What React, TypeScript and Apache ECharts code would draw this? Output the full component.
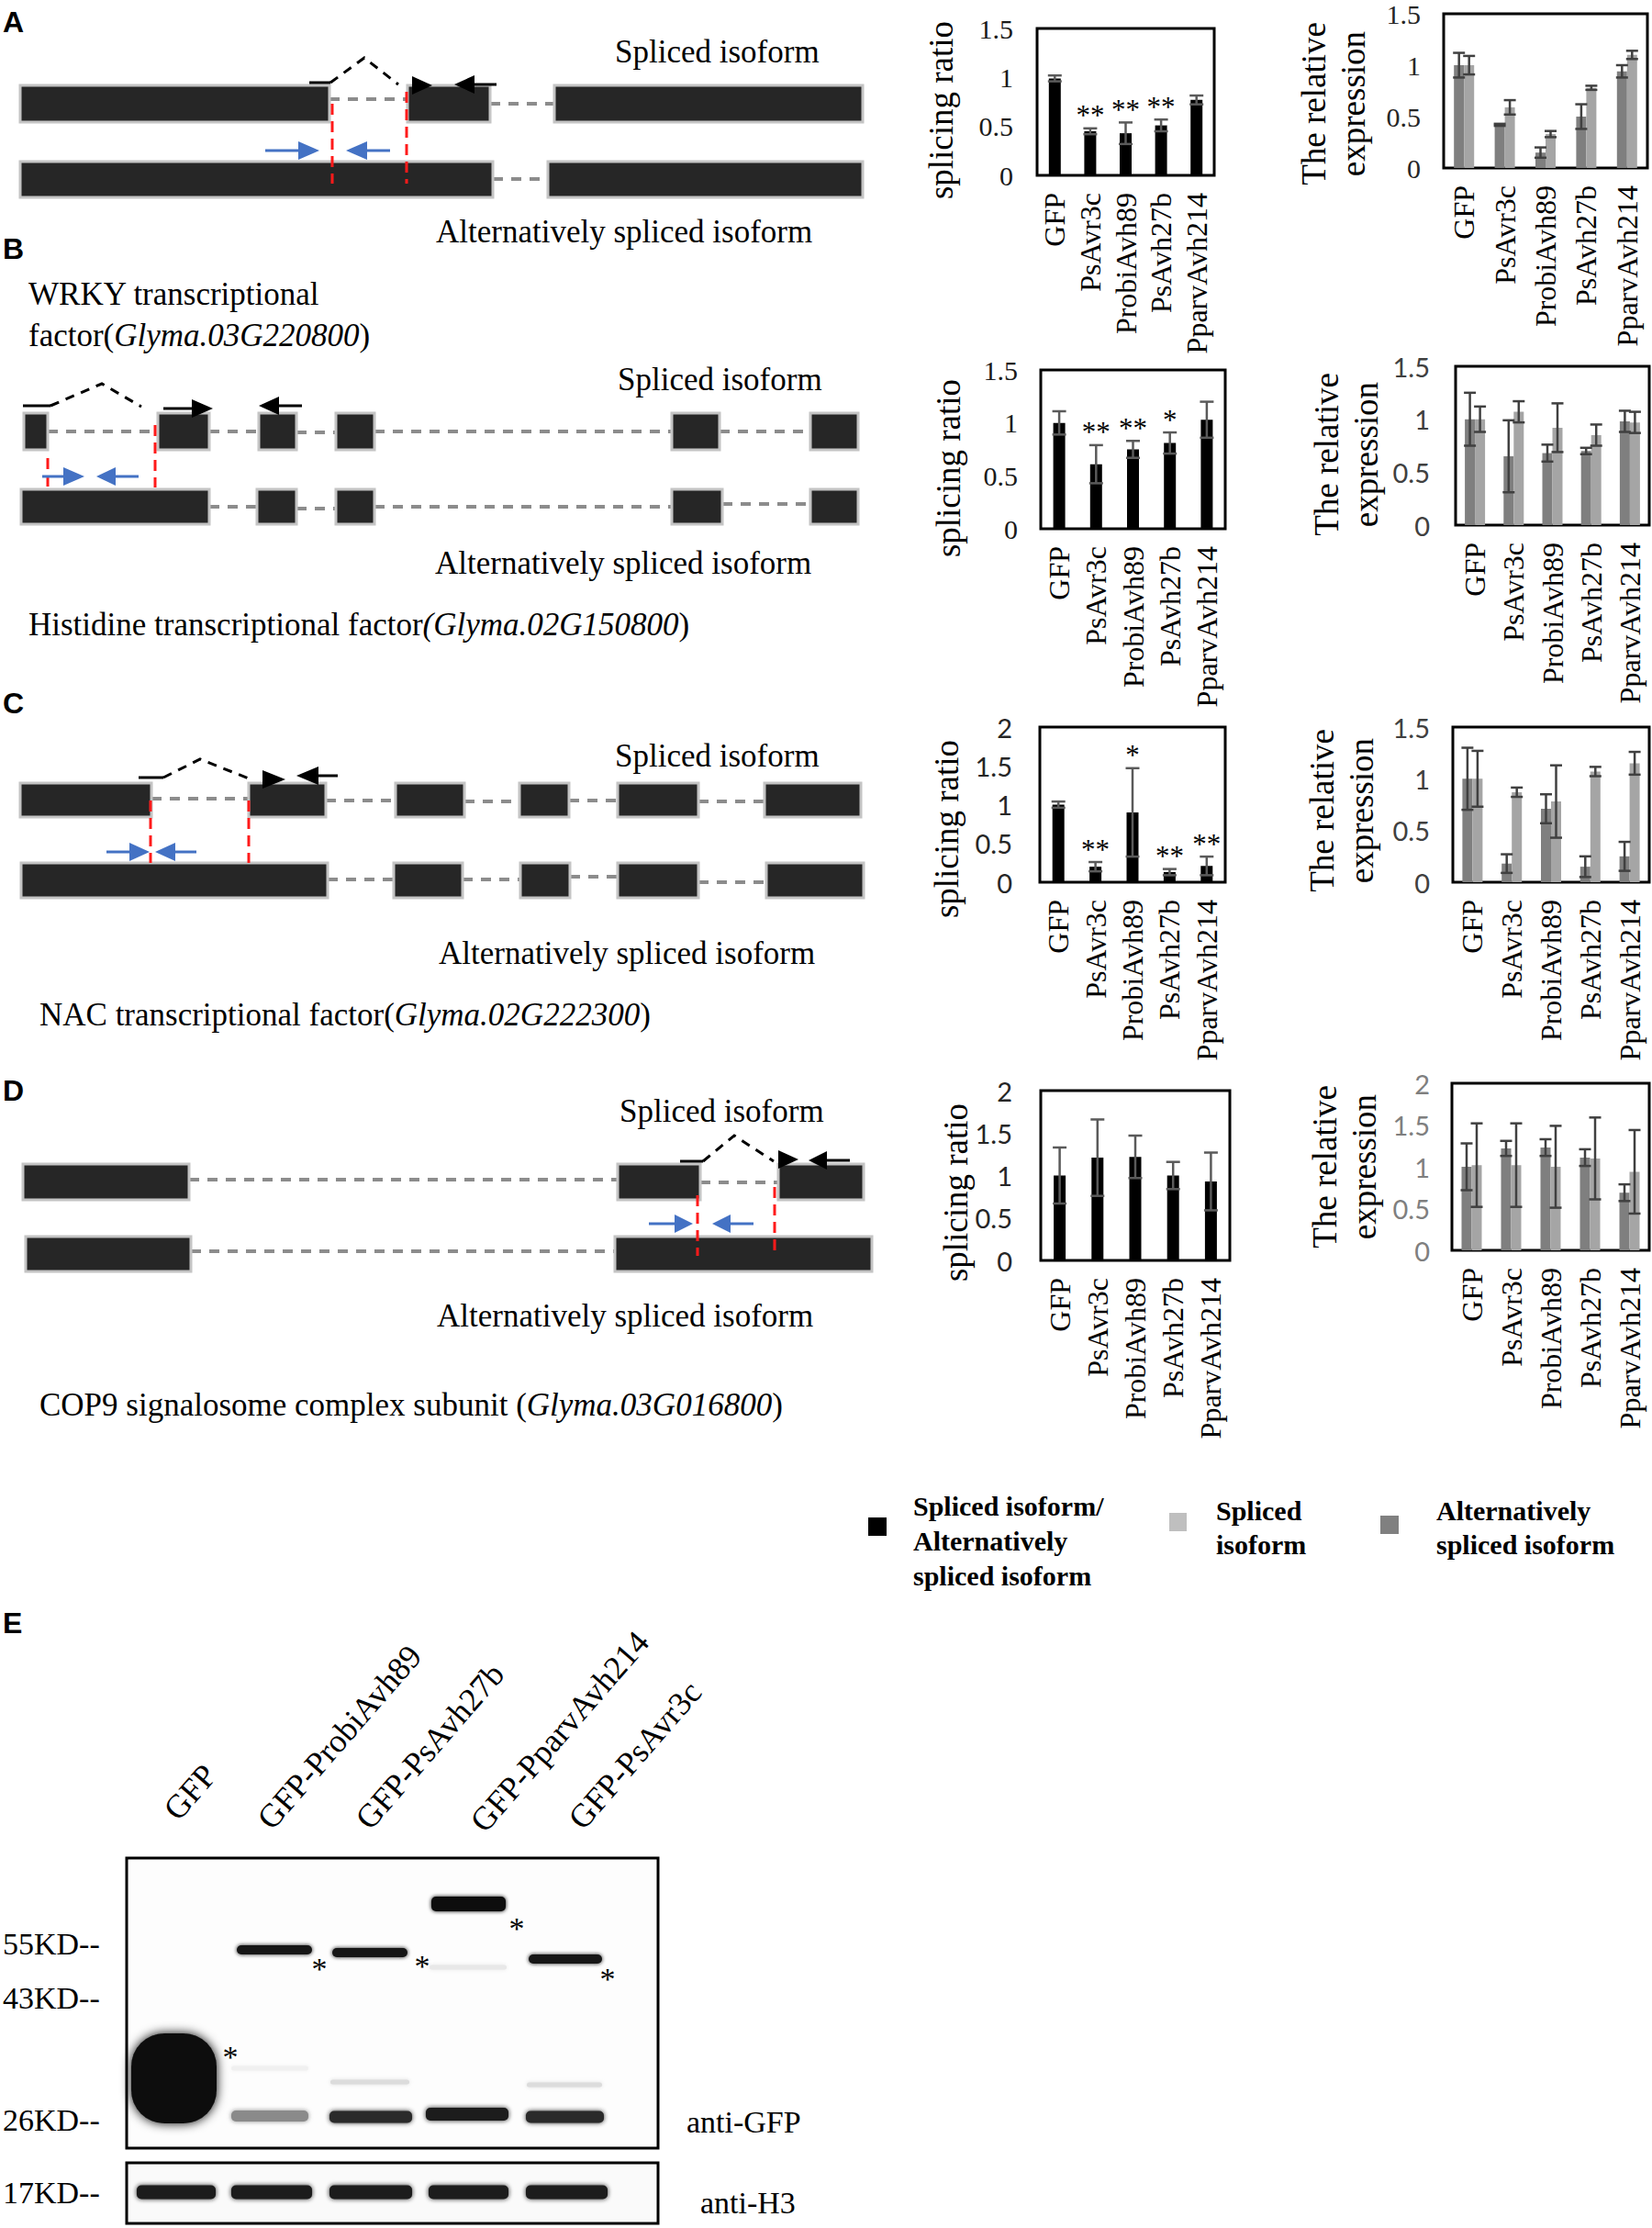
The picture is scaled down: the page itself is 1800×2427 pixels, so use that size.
import React, { useEffect, useRef } from 'react';
import * as echarts from 'echarts';

// ---------------- DATA ----------------
const categories = ['GFP', 'PsAvr3c', 'ProbiAvh89', 'PsAvh27b', 'PparvAvh214'];

// Panel A (WRKY)
const ratioA = [0.99, 0.45, 0.43, 0.51, 0.77];
const ratioErrA = [0.03, 0.03, 0.11, 0.06, 0.045];
const starsA = ['', '**', '**', '**', ''];
const altA = [1.0, 0.42, 0.15, 0.5, 0.94];
const altErrA = [0.12, 0.01, 0.05, 0.12, 0.06];
const splA = [1.0, 0.59, 0.33, 0.78, 1.1];
const splErrA = [0.09, 0.07, 0.03, 0.02, 0.04];

// Panel B (Histidine)
const ratioB = [1.0, 0.61, 0.75, 0.81, 1.03];
const ratioErrB = [0.11, 0.18, 0.08, 0.1, 0.17];
const starsB = ['', '**', '**', '*', ''];
const altB = [1.0, 0.65, 0.68, 0.7, 0.98];
const altErrB = [0.25, 0.34, 0.08, 0.03, 0.1];
const splB = [1.0, 1.07, 0.92, 0.85, 0.97];
const splErrB = [0.12, 0.1, 0.23, 0.1, 0.1];

// Panel C (NAC)
const ratioC = [1.0, 0.2, 0.9, 0.13, 0.21];
const ratioErrC = [0.04, 0.06, 0.57, 0.04, 0.12];
const starsC = ['', '**', '*', '**', '**'];
const altC = [1.0, 0.18, 0.71, 0.15, 0.25];
const altErrC = [0.3, 0.09, 0.14, 0.1, 0.14];
const splC = [1.0, 0.87, 0.78, 1.07, 1.15];
const splErrC = [0.27, 0.045, 0.35, 0.045, 0.11];

// Panel D (COP9)
const ratioD = [1.0, 1.21, 1.22, 1.0, 0.93];
const ratioErrD = [0.33, 0.45, 0.25, 0.16, 0.34];
const starsD = ['', '', '', '', ''];
const altD = [1.0, 1.22, 1.23, 1.11, 0.69];
const altErrD = [0.28, 0.09, 0.1, 0.1, 0.1];
const splD = [1.02, 1.02, 1.0, 1.1, 0.94];
const splErrD = [0.5, 0.5, 0.49, 0.49, 0.5];

// Western blot
const laneLabels = ['GFP', 'GFP-ProbiAvh89', 'GFP-PsAvh27b', 'GFP-PparvAvh214', 'GFP-PsAvr3c'];
const markerLabels = ['55KD--', '43KD--', '26KD--', '17KD--'];

// ---------------- STYLE / LAYOUT ----------------
const SERIF = '"Liberation Serif","Times New Roman",serif';
const SANS = 'Lato,"Liberation Sans",sans-serif';
const BAR_BLACK = '#000000';
const ALT_GRAY = '#7f7f7f';
const SPL_GRAY = '#a5a5a5';

type ChartCfg = {
  kind: 'ratio' | 'expr';
  grid: { left: number; top: number; width: number; height: number };
  max: number;
  font: string;
  fs: number;
  color: string;
  margin: number;
  title: { x: number; y: number };
};

const CHARTS: ChartCfg[] = [
  { kind: 'ratio', grid: { left: 1130, top: 31, width: 193, height: 160 }, max: 1.5, font: SERIF, fs: 30, color: '#1a1a1a', margin: 26, title: { x: 1025, y: 120 } },
  { kind: 'expr', grid: { left: 1573, top: 13, width: 222, height: 170 }, max: 1.5, font: SERIF, fs: 30, color: '#262626', margin: 25, title: { x: 1453, y: 113 } },
  { kind: 'ratio', grid: { left: 1134, top: 403, width: 201, height: 173 }, max: 1.5, font: SERIF, fs: 30, color: '#1a1a1a', margin: 25, title: { x: 1033, y: 510 } },
  { kind: 'expr', grid: { left: 1586, top: 399, width: 211, height: 173 }, max: 1.5, font: SANS, fs: 29, color: '#404040', margin: 28, title: { x: 1467, y: 495 } },
  { kind: 'ratio', grid: { left: 1133, top: 792, width: 202, height: 169 }, max: 2, font: SANS, fs: 29, color: '#262626', margin: 30, title: { x: 1031, y: 903 } },
  { kind: 'expr', grid: { left: 1583, top: 792, width: 214, height: 169 }, max: 1.5, font: SANS, fs: 29, color: '#404040', margin: 25, title: { x: 1462, y: 883 } },
  { kind: 'ratio', grid: { left: 1134, top: 1188, width: 206, height: 185 }, max: 2, font: SANS, fs: 29, color: '#262626', margin: 31, title: { x: 1041, y: 1299 } },
  { kind: 'expr', grid: { left: 1582, top: 1180, width: 215, height: 182 }, max: 2, font: SANS, fs: 29, color: '#7f7f7f', margin: 24, title: { x: 1465, y: 1271 } },
];

const RATIO_SETS = [
  { v: ratioA, e: ratioErrA, s: starsA },
  { v: ratioB, e: ratioErrB, s: starsB },
  { v: ratioC, e: ratioErrC, s: starsC },
  { v: ratioD, e: ratioErrD, s: starsD },
];
const EXPR_SETS = [
  { alt: altA, altE: altErrA, spl: splA, splE: splErrA },
  { alt: altB, altE: altErrB, spl: splB, splE: splErrB },
  { alt: altC, altE: altErrC, spl: splC, splE: splErrC },
  { alt: altD, altE: altErrD, spl: splD, splE: splErrD },
];

function errorSeries(idx: number, means: number[], errs: number[], offset: number, cap: number, color: string, stars?: string[]) {
  return {
    type: 'custom',
    xAxisIndex: idx,
    yAxisIndex: idx,
    z: 5,
    silent: true,
    data: means.map((m, i) => [i, m - errs[i], m + errs[i]]),
    encode: { x: 0, y: [1, 2] },
    renderItem: (params: any, api: any) => {
      const i = api.value(0);
      const p0 = api.coord([i, api.value(1)]);
      const p1 = api.coord([i, api.value(2)]);
      const x = p0[0] + offset;
      const st = { stroke: color, lineWidth: 2.5 };
      const children: any[] = [
        { type: 'line', shape: { x1: x, y1: p0[1], x2: x, y2: p1[1] }, style: st },
        { type: 'line', shape: { x1: x - cap / 2, y1: p0[1], x2: x + cap / 2, y2: p0[1] }, style: st },
        { type: 'line', shape: { x1: x - cap / 2, y1: p1[1], x2: x + cap / 2, y2: p1[1] }, style: st },
      ];
      const s = stars ? stars[params.dataIndex] : '';
      if (s) {
        children.push({
          type: 'text',
          x: x,
          y: p1[1] - 14,
          style: { text: s, fontSize: 31, fontFamily: SERIF, fill: '#000', align: 'center', verticalAlign: 'middle' },
        });
      }
      return { type: 'group', children };
    },
  };
}

// ---------- graphic helpers ----------
const exon = (x1: number, x2: number, y1: number, y2: number) => ({
  type: 'rect', z: 2, shape: { x: x1, y: y1, width: x2 - x1, height: y2 - y1 },
  style: { fill: '#262626', stroke: '#c4c4c4', lineWidth: 3 },
});
const gdash = (x1: number, x2: number, y: number) => ({
  type: 'line', z: 1, shape: { x1, y1: y, x2, y2: y },
  style: { stroke: '#8c8c8c', lineWidth: 4, lineDash: [11, 9] },
});
const rdash = (x: number, y1: number, y2: number) => ({
  type: 'line', z: 4, shape: { x1: x, y1, x2: x, y2 },
  style: { stroke: '#ff1a1a', lineWidth: 3, lineDash: [12, 7] },
});
const splice = (xs: number, xa: number, y0: number, xp: number, yp: number, xe: number, ye: number) => [
  { type: 'line', z: 3, shape: { x1: xs, y1: y0, x2: xa, y2: y0 }, style: { stroke: '#000', lineWidth: 3 } },
  { type: 'polyline', z: 3, shape: { points: [[xa, y0], [xp, yp], [xe, ye]] }, style: { stroke: '#000', lineWidth: 3, lineDash: [10, 8], fill: null } },
];
const arrowRight = (xl: number, xb: number, xt: number, y: number, color: string, hh: number) => {
  const out: any[] = [];
  if (xl < xb) out.push({ type: 'line', z: 5, shape: { x1: xl, y1: y, x2: xb, y2: y }, style: { stroke: color, lineWidth: 3 } });
  out.push({ type: 'polygon', z: 5, shape: { points: [[xb, y - hh], [xt, y], [xb, y + hh]] }, style: { fill: color } });
  return out;
};
const arrowLeft = (xt: number, xb: number, xr: number, y: number, color: string, hh: number) => {
  const out: any[] = [];
  if (xr > xb) out.push({ type: 'line', z: 5, shape: { x1: xb, y1: y, x2: xr, y2: y }, style: { stroke: color, lineWidth: 3 } });
  out.push({ type: 'polygon', z: 5, shape: { points: [[xb, y - hh], [xt, y], [xb, y + hh]] }, style: { fill: color } });
  return out;
};
const text = (x: number, y: number, t: string, extra: any = {}) => ({
  type: 'text', z: 10, x, y,
  style: { text: t, fill: '#000', fontSize: 35, fontFamily: SERIF, align: 'left', verticalAlign: 'middle', ...extra },
});
const richText = (x: number, y: number, t: string) => text(x, y, t, {
  rich: { i: { fontStyle: 'italic', fontSize: 35, fontFamily: SERIF, fill: '#000' } },
});
const letter = (y: number, t: string) => ({
  type: 'text', z: 10, x: 3, y,
  style: { text: t, fill: '#000', fontSize: 32, fontWeight: 'bold', fontFamily: '"Liberation Sans Narrow","Liberation Sans",Arial,sans-serif', align: 'left', verticalAlign: 'top' },
});
const BLUE = '#4472c4';

function diagrams(): any[] {
  const el: any[] = [];
  // ---- Panel A ----
  el.push(letter(8, 'A'));
  el.push(text(670, 56, 'Spliced isoform'));
  el.push(text(475, 252, 'Alternatively spliced isoform'));
  [[22, 359], [444, 534], [604, 940]].forEach(([a, b]) => el.push(exon(a, b, 93, 133)));
  [[22, 537], [597, 940]].forEach(([a, b]) => el.push(exon(a, b, 176, 215)));
  el.push(gdash(359, 444, 108), gdash(534, 604, 113), gdash(537, 597, 195));
  el.push(...splice(337, 360, 90, 397, 63, 434, 92));
  el.push(...arrowRight(449, 449, 471, 93, '#000', 10));
  el.push(...arrowLeft(495, 517, 541, 92, '#000', 10));
  el.push(rdash(362, 113, 200), rdash(443, 100, 200));
  el.push(...arrowRight(289, 325, 348, 164, BLUE, 10));
  el.push(...arrowLeft(377, 400, 425, 164, BLUE, 10));

  // ---- Panel B ----
  el.push(letter(255, 'B'));
  el.push(text(31, 320, 'WRKY transcriptional'));
  el.push(richText(31, 365, 'factor({i|Glyma.03G220800})'));
  el.push(text(673, 413, 'Spliced isoform'));
  el.push(text(474, 613, 'Alternatively spliced isoform'));
  el.push(richText(31, 680, 'Histidine transcriptional factor{i|(Glyma.02G150800})'));
  [[26, 52], [172, 228], [282, 323], [366, 408], [732, 784], [883, 935]].forEach(([a, b]) => el.push(exon(a, b, 450, 490)));
  [[23, 228], [280, 323], [366, 408], [732, 787], [883, 935]].forEach(([a, b]) => el.push(exon(a, b, 533, 571)));
  el.push(gdash(52, 172, 470), gdash(228, 282, 470), gdash(323, 366, 471), gdash(408, 732, 470), gdash(784, 883, 470));
  el.push(gdash(228, 280, 552), gdash(323, 366, 554), gdash(408, 732, 552), gdash(787, 883, 549));
  el.push(...splice(25, 55, 442, 111, 418, 154, 443));
  el.push(...arrowRight(178, 209, 232, 445, '#000', 10));
  el.push(...arrowLeft(282, 304, 329, 442, '#000', 10));
  el.push(rdash(52, 499, 531), rdash(169, 463, 531));
  el.push(...arrowRight(46, 69, 92, 519, BLUE, 10));
  el.push(...arrowLeft(105, 126, 151, 519, BLUE, 10));

  // ---- Panel C ----
  el.push(letter(750, 'C'));
  el.push(text(670, 823, 'Spliced isoform'));
  el.push(text(478, 1038, 'Alternatively spliced isoform'));
  el.push(richText(43, 1105, 'NAC transcriptional factor({i|Glyma.02G222300})'));
  [[22, 165], [271, 355], [431, 506], [566, 620], [673, 761], [833, 938]].forEach(([a, b]) => el.push(exon(a, b, 853, 890)));
  [[23, 357], [429, 504], [567, 621], [673, 761], [835, 941]].forEach(([a, b]) => el.push(exon(a, b, 940, 978)));
  el.push(gdash(165, 271, 870), gdash(355, 431, 872), gdash(506, 566, 873), gdash(620, 673, 872), gdash(761, 833, 873));
  el.push(gdash(357, 429, 958), gdash(504, 567, 958), gdash(621, 673, 955), gdash(761, 835, 961));
  el.push(...splice(151, 178, 847, 218, 827, 271, 848));
  el.push(...arrowRight(286, 286, 311, 849, '#000', 10));
  el.push(...arrowLeft(323, 347, 368, 845, '#000', 10));
  el.push(rdash(164, 872, 940), rdash(271, 872, 940));
  el.push(...arrowRight(116, 141, 163, 928, BLUE, 10));
  el.push(...arrowLeft(169, 191, 214, 928, BLUE, 10));

  // ---- Panel D ----
  el.push(letter(1172, 'D'));
  el.push(text(675, 1210, 'Spliced isoform'));
  el.push(text(476, 1433, 'Alternatively spliced isoform'));
  el.push(richText(43, 1530, 'COP9 signalosome complex subunit ({i|Glyma.03G016800})'));
  [[25, 206], [673, 763], [848, 941]].forEach(([a, b]) => el.push(exon(a, b, 1268, 1307)));
  [[28, 208], [670, 950]].forEach(([a, b]) => el.push(exon(a, b, 1347, 1385)));
  el.push(gdash(206, 673, 1285), gdash(763, 848, 1288), gdash(208, 670, 1363));
  el.push(...splice(741, 766, 1265, 800, 1237, 843, 1265));
  el.push(...arrowRight(848, 848, 870, 1263, '#000', 10));
  el.push(...arrowLeft(881, 901, 926, 1264, '#000', 10));
  el.push(rdash(760, 1302, 1368), rdash(844, 1293, 1363));
  el.push(...arrowRight(707, 735, 755, 1333, BLUE, 10));
  el.push(...arrowLeft(776, 796, 821, 1333, BLUE, 10));
  return el;
}

function chartTitles(): any[] {
  return CHARTS.map((c) => ({
    type: 'text', z: 10, x: c.title.x, y: c.title.y, rotation: Math.PI / 2,
    style: {
      text: c.kind === 'ratio' ? 'splicing ratio' : 'The relative\nexpression',
      fill: '#000', fontSize: 37, fontFamily: SERIF, align: 'center', verticalAlign: 'middle', lineHeight: 43,
    },
  }));
}

function legend(): any[] {
  const bold = { fontWeight: 'bold', fontSize: 30 };
  return [
    { type: 'rect', shape: { x: 946, y: 1653, width: 20, height: 20 }, style: { fill: BAR_BLACK } },
    text(995, 1640, 'Spliced isoform/', bold),
    text(995, 1678, 'Alternatively', bold),
    text(995, 1716, 'spliced isoform', bold),
    { type: 'rect', shape: { x: 1274, y: 1648, width: 19, height: 20 }, style: { fill: '#bfbfbf' } },
    text(1325, 1645, 'Spliced', bold),
    text(1325, 1682, 'isoform', bold),
    { type: 'rect', shape: { x: 1504, y: 1651, width: 20, height: 20 }, style: { fill: '#808080' } },
    text(1565, 1645, 'Alternatively', bold),
    text(1565, 1682, 'spliced isoform', bold),
  ];
}

function blot(): any[] {
  const el: any[] = [];
  el.push(letter(1752, 'E'));
  const laneStarts = [[199, 1989], [301, 1999], [408, 1999], [533, 2002], [640, 1999]];
  laneLabels.forEach((t, i) => {
    el.push({
      type: 'text', z: 10, x: laneStarts[i][0], y: laneStarts[i][1], rotation: (49 * Math.PI) / 180,
      style: { text: t, fill: '#000', fontSize: 36, fontFamily: SERIF, align: 'left', verticalAlign: 'bottom' },
    });
  });
  el.push({ type: 'rect', z: 1, shape: { x: 138, y: 2024, width: 579, height: 316 }, style: { fill: '#fdfdfd', stroke: '#000', lineWidth: 3 } });
  el.push({ type: 'rect', z: 1, shape: { x: 138, y: 2356, width: 579, height: 66 }, style: { fill: '#fafafa', stroke: '#000', lineWidth: 3 } });
  const markerY = [2117, 2176, 2309, 2388];
  markerLabels.forEach((t, i) => el.push(text(3, markerY[i], t, { fontSize: 34 })));
  el.push(text(748, 2311, 'anti-GFP', { fontSize: 34 }));
  el.push(text(763, 2399, 'anti-H3', { fontSize: 34 }));
  const band = (x1: number, x2: number, yc: number, h: number, fill: string, blur: number, r = 5) => ({
    type: 'rect', z: 3, shape: { x: x1, y: yc - h / 2, width: x2 - x1, height: h, r },
    style: { fill, shadowBlur: blur, shadowColor: fill },
  });
  // GFP blob
  el.push(band(143, 236, 2264, 98, '#0a0a0a', 12, 36));
  // fusion bands
  el.push(band(258, 340, 2124, 10, '#151515', 4));
  el.push(band(362, 444, 2127, 10, '#151515', 4));
  el.push(band(470, 551, 2074, 16, '#111111', 4));
  el.push(band(576, 656, 2134, 10, '#151515', 4));
  // faint bands
  el.push(band(468, 552, 2143, 5, '#e8e8e8', 4));
  el.push(band(360, 446, 2268, 5, '#dcdcdc', 4));
  el.push(band(574, 656, 2271, 5, '#dcdcdc', 4));
  el.push(band(252, 336, 2253, 5, '#f0f0f0', 4));
  // 26KD bands
  el.push(band(252, 336, 2305, 12, '#8a8a8a', 5));
  el.push(band(359, 449, 2306, 13, '#2a2a2a', 5));
  el.push(band(464, 554, 2303, 14, '#1a1a1a', 5));
  el.push(band(573, 658, 2306, 13, '#2a2a2a', 5));
  // H3 bands
  [[149, 235], [252, 340], [359, 449], [467, 554], [573, 662]].forEach(([a, b]) => el.push(band(a, b, 2388, 15, '#1c1c1c', 5)));
  // asterisks
  const stars = [[251, 2240], [348, 2144], [460, 2141], [563, 2100], [662, 2155]];
  stars.forEach(([x, y]) => el.push(text(x, y, '*', { fontSize: 34, align: 'center' })));
  return el;
}

function buildOption() {
  const series: any[] = [];
  let r = 0;
  let e = 0;
  CHARTS.forEach((c, i) => {
    if (c.kind === 'ratio') {
      const d = RATIO_SETS[r++];
      series.push({ type: 'bar', xAxisIndex: i, yAxisIndex: i, data: d.v, barWidth: 13, itemStyle: { color: BAR_BLACK }, silent: true, z: 2 });
      series.push(errorSeries(i, d.v, d.e, 0, 15, '#5a5a5a', d.s));
    } else {
      const d = EXPR_SETS[e++];
      series.push({ type: 'bar', xAxisIndex: i, yAxisIndex: i, data: d.alt, barWidth: 11, barGap: '0%', itemStyle: { color: ALT_GRAY }, silent: true, z: 2 });
      series.push({ type: 'bar', xAxisIndex: i, yAxisIndex: i, data: d.spl, barWidth: 11, barGap: '0%', itemStyle: { color: SPL_GRAY }, silent: true, z: 2 });
      series.push(errorSeries(i, d.alt, d.altE, -5.5, 13, '#404040'));
      series.push(errorSeries(i, d.spl, d.splE, 5.5, 13, '#404040'));
    }
  });
  return {
    animation: false,
    backgroundColor: '#ffffff',
    grid: CHARTS.map((c) => ({ ...c.grid, show: true, borderColor: '#000', borderWidth: 3, backgroundColor: 'transparent' })),
    xAxis: CHARTS.map((c, i) => ({
      type: 'category', gridIndex: i, data: categories,
      axisLine: { show: false }, axisTick: { show: false },
      axisLabel: { rotate: 90, interval: 0, fontFamily: SERIF, fontSize: 32, color: '#000', margin: 19 },
    })),
    yAxis: CHARTS.map((c, i) => ({
      type: 'value', gridIndex: i, min: 0, max: c.max, interval: 0.5,
      splitLine: { show: false }, axisLine: { show: false }, axisTick: { show: false },
      axisLabel: { fontFamily: c.font, fontSize: c.fs, color: c.color, margin: c.margin },
    })),
    series,
    graphic: { elements: [...diagrams(), ...chartTitles(), ...legend(), ...blot()] },
  };
}

export default function App() {
  const ref = useRef<HTMLDivElement>(null);
  useEffect(() => {
    document.body.style.margin = '0';
    const chart = echarts.init(ref.current!, null, { renderer: 'svg' });
    chart.setOption(buildOption() as any);
    return () => chart.dispose();
  }, []);
  return <div ref={ref} style={{ width: 1800, height: 2427, background: '#fff' }} />;
}
